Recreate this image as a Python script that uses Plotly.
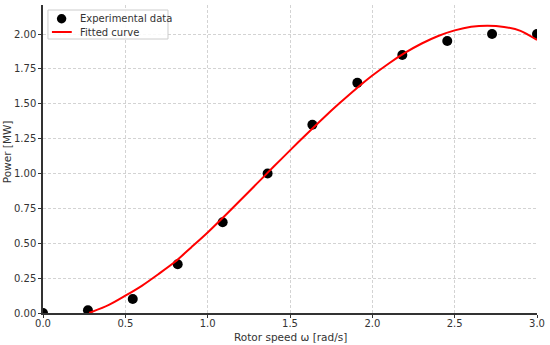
import plotly.graph_objects as go

# Experimental data
omega = [0.0, 0.273, 0.545, 0.818, 1.091, 1.364, 1.636, 1.909, 2.182, 2.455, 2.727, 3.0]
power = [0.0, 0.02, 0.10, 0.35, 0.65, 1.00, 1.35, 1.65, 1.85, 1.95, 2.00, 2.00]

# Fitted curve
fit_omega = [0.28, 0.4, 0.5, 0.6, 0.7, 0.8, 0.9, 1.0, 1.1, 1.2, 1.3, 1.4, 1.5, 1.6, 1.7,
             1.8, 1.9, 2.0, 2.1, 2.2, 2.3, 2.4, 2.5, 2.6, 2.7, 2.8, 2.9, 3.0]
fit_power = [0.0, 0.058, 0.124, 0.195, 0.278, 0.365, 0.47, 0.577, 0.692, 0.81, 0.929, 1.048,
             1.166, 1.282, 1.395, 1.503, 1.606, 1.702, 1.789, 1.866, 1.932, 1.986, 2.026,
             2.052, 2.06, 2.051, 2.023, 1.957]

x_ticks = [0.0, 0.5, 1.0, 1.5, 2.0, 2.5, 3.0]
x_labels = ["0.0", "0.5", "1.0", "1.5", "2.0", "2.5", "3.0"]
y_ticks = [0.0, 0.25, 0.5, 0.75, 1.0, 1.25, 1.5, 1.75, 2.0]
y_labels = ["0.00", "0.25", "0.50", "0.75", "1.00", "1.25", "1.50", "1.75", "2.00"]

legend_labels = ["Experimental data", "Fitted curve"]
x_title = "Rotor speed ω [rad/s]"
y_title = "Power [MW]"

font = "DejaVu Sans"
txt = "#333333"

W, H = 550, 345
ML, MR, MT, MB = 43, 9, 5, 32

fig = go.Figure()
fig.add_trace(go.Scatter(
    x=omega, y=power, mode="markers", name=legend_labels[0],
    marker=dict(color="black", size=10), showlegend=False,
))
fig.add_trace(go.Scatter(
    x=fit_omega, y=fit_power, mode="lines", name=legend_labels[1],
    line=dict(color="red", width=2, shape="spline", smoothing=0.8), showlegend=False,
))

axis_common = dict(
    showline=True, linecolor="#333333", linewidth=1.5,
    showgrid=True, gridcolor="#d3d3d3", griddash="3px,2px", gridwidth=1,
    zeroline=False, ticks="outside", ticklen=3, tickcolor="#333333",
    tickfont=dict(family=font, size=10, color=txt),
    mirror=False,
)

# custom legend and titles (pixel -> paper coords)
pw, ph = W - ML - MR, H - MT - MB
def px(xp):
    return (xp - ML) / pw
def py(yp):
    return (H - MB - yp) / ph

shapes = [
    dict(type="rect", xref="paper", yref="paper", x0=px(48), x1=px(169), y0=py(39), y1=py(10),
         fillcolor="rgba(255,255,255,0.85)", line=dict(color="#cccccc", width=1), layer="above"),
    dict(type="circle", xref="paper", yref="paper", x0=px(57), x1=px(66.5), y0=py(23.5), y1=py(14),
         fillcolor="black", line=dict(color="black", width=0), layer="above"),
    dict(type="line", xref="paper", yref="paper", x0=px(52), x1=px(72), y0=py(32), y1=py(32),
         line=dict(color="red", width=2), layer="above"),
]
annotations = [
    dict(xref="paper", yref="paper", x=px(78), y=py(18.5), text=legend_labels[0], showarrow=False,
         xanchor="left", yanchor="middle", font=dict(family=font, size=10, color=txt)),
    dict(xref="paper", yref="paper", x=px(78), y=py(32), text=legend_labels[1], showarrow=False,
         xanchor="left", yanchor="middle", font=dict(family=font, size=10, color=txt)),
    dict(xref="paper", yref="paper", x=px(292), y=py(337), text=x_title, showarrow=False,
         xanchor="center", yanchor="middle", font=dict(family=font, size=10.5, color=txt)),
    dict(xref="paper", yref="paper", x=px(7), y=py(152), text=y_title, showarrow=False,
         textangle=-90, xanchor="center", yanchor="middle", font=dict(family=font, size=10.5, color=txt)),
]

fig.update_layout(
    width=W, height=H,
    margin=dict(l=ML, r=MR, t=MT, b=MB),
    paper_bgcolor="white", plot_bgcolor="white",
    font=dict(family=font, color=txt),
    xaxis=dict(range=[0, 3.0], tickvals=x_ticks, ticktext=x_labels, ticklabelstandoff=-3,
               **axis_common),
    yaxis=dict(range=[0, 2.208], tickvals=y_ticks, ticktext=y_labels, **axis_common),
    shapes=shapes,
    annotations=annotations,
    showlegend=False,
)

fig.write_html(
    "out.html",
    config={"displayModeBar": False},
    post_script=(
        "document.body.style.margin='0';"
        "document.body.style.overflow='hidden';"
        "document.documentElement.style.overflow='hidden';"
    ),
)
